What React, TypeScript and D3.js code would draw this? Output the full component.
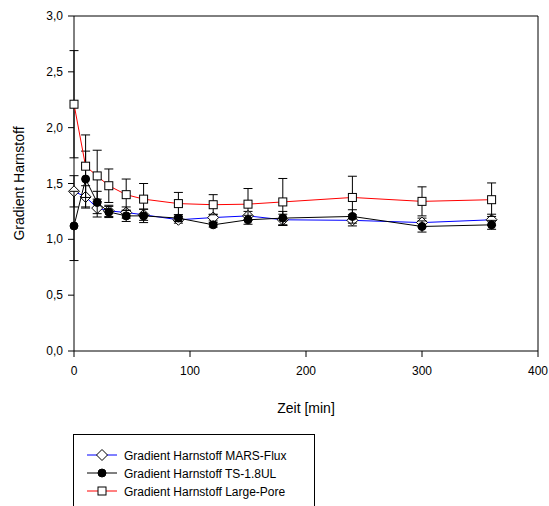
import React from "react";
import * as d3 from "d3";

const times = [0, 10, 20, 30, 45, 60, 90, 120, 150, 180, 240, 300, 360];
const marsFlux = [1.43, 1.38, 1.28, 1.255, 1.24, 1.22, 1.175, 1.195, 1.21, 1.175, 1.17, 1.15, 1.175];
const marsFluxErr = [0.14, 0.1, 0.08, 0.05, 0.05, 0.05, 0.03, 0.03, 0.04, 0.05, 0.05, 0.04, 0.05];
const ts18 = [1.12, 1.54, 1.33, 1.245, 1.21, 1.21, 1.19, 1.13, 1.175, 1.19, 1.205, 1.115, 1.13];
const ts18Err = [0.31, 0.25, 0.1, 0.05, 0.05, 0.06, 0.03, 0.02, 0.04, 0.06, 0.06, 0.05, 0.04];
const largePore = [2.21, 1.655, 1.568, 1.48, 1.4, 1.36, 1.32, 1.31, 1.315, 1.335, 1.375, 1.34, 1.355];
const largePoreErr = [0.48, 0.28, 0.23, 0.15, 0.14, 0.14, 0.1, 0.09, 0.14, 0.21, 0.19, 0.13, 0.15];

const xTicks = [0, 100, 200, 300, 400];
const yTicks = [0, 0.5, 1.0, 1.5, 2.0, 2.5, 3.0];
const legendLabels = [
  "Gradient Harnstoff MARS-Flux",
  "Gradient Harnstoff TS-1.8UL",
  "Gradient Harnstoff Large-Pore",
];

const W = 549;
const H = 506;
const X0 = 74, X1 = 538, Y0 = 351, Y1 = 16;
const font = "Liberation Sans, Arial, sans-serif";

type Series = { vals: number[]; err: number[]; color: string; marker: string };

export default function App() {
  const x = d3.scaleLinear().domain([0, 400]).range([X0, X1]);
  const y = d3.scaleLinear().domain([0, 3]).range([Y0, Y1]);
  const series: Series[] = [
    { vals: marsFlux, err: marsFluxErr, color: "#0000ff", marker: "diamond" },
    { vals: ts18, err: ts18Err, color: "#000000", marker: "circle" },
    { vals: largePore, err: largePoreErr, color: "#ff0000", marker: "square" },
  ];
  const line = d3
    .line<number>()
    .x((_, i) => x(times[i]))
    .y((v) => y(v));

  const marker = (kind: string, cx: number, cy: number, key: string) => {
    if (kind === "diamond") {
      const r = 5.5;
      return (
        <path
          key={key}
          d={`M${cx},${cy - r}L${cx + r},${cy}L${cx},${cy + r}L${cx - r},${cy}Z`}
          fill="#fff"
          stroke="#000"
          strokeWidth={1}
        />
      );
    }
    if (kind === "circle") {
      return <circle key={key} cx={cx} cy={cy} r={4} fill="#000" stroke="#000" />;
    }
    const s = 4;
    return (
      <rect key={key} x={cx - s} y={cy - s} width={2 * s} height={2 * s} fill="#fff" stroke="#000" strokeWidth={1} />
    );
  };

  const cap = 4.5;

  return (
    <svg width={W} height={H} style={{ position: "absolute", left: 0, top: 0, background: "#fff" }}>
      <rect x={0} y={0} width={W} height={H} fill="#fff" />
      {/* frame */}
      <line x1={X0} x2={X1} y1={Y1} y2={Y1} stroke="#000" strokeWidth={1} />
      <line x1={X1} x2={X1} y1={Y1} y2={Y0} stroke="#000" strokeWidth={1} />
      <line x1={X0} x2={X1} y1={Y0} y2={Y0} stroke="#000" strokeWidth={1} />
      <line x1={X0} x2={X0} y1={Y1} y2={Y0} stroke="#000" strokeWidth={1} />
      {/* y ticks */}
      {yTicks.map((t) => (
        <g key={"y" + t}>
          <line x1={X0 - 6} x2={X0} y1={y(t)} y2={y(t)} stroke="#000" />
          <text x={X0 - 11} y={y(t) + 4} textAnchor="end" fontFamily={font} fontSize={12} fill="#000">
            {t.toFixed(1).replace(".", ",")}
          </text>
        </g>
      ))}
      {/* x ticks */}
      {xTicks.map((t) => (
        <g key={"x" + t}>
          <line x1={x(t)} x2={x(t)} y1={Y0} y2={Y0 + 6} stroke="#000" />
          <text x={x(t)} y={Y0 + 24} textAnchor="middle" fontFamily={font} fontSize={12} fill="#000">
            {t}
          </text>
        </g>
      ))}
      <text x={(X0 + X1) / 2} y={413} textAnchor="middle" fontFamily={font} fontSize={14} fill="#000">
        Zeit [min]
      </text>
      <text
        transform={`translate(24,${(Y0 + Y1) / 2}) rotate(-90)`}
        textAnchor="middle"
        fontFamily={font}
        fontSize={14}
        fill="#000"
      >
        Gradient Harnstoff
      </text>
      {/* series */}
      {series.map((s, si) => (
        <g key={"s" + si}>
          {s.vals.map((v, i) => (
            <g key={"e" + i} stroke="#000" strokeWidth={1}>
              <line x1={x(times[i])} x2={x(times[i])} y1={y(v - s.err[i])} y2={y(v + s.err[i])} />
              <line x1={x(times[i]) - cap} x2={x(times[i]) + cap} y1={y(v + s.err[i])} y2={y(v + s.err[i])} />
              <line x1={x(times[i]) - cap} x2={x(times[i]) + cap} y1={y(v - s.err[i])} y2={y(v - s.err[i])} />
            </g>
          ))}
          <path d={line(s.vals) || ""} fill="none" stroke={s.color} strokeWidth={1} />
          {s.vals.map((v, i) => marker(s.marker, x(times[i]), y(v), "m" + i))}
        </g>
      ))}
      {/* legend */}
      <rect x={73.5} y={434.5} width={241} height={80} fill="#fff" stroke="#000" strokeWidth={1} />
      {series.map((s, i) => {
        const ly = 455 + i * 18;
        return (
          <g key={"l" + i}>
            <line x1={87} x2={117} y1={ly} y2={ly} stroke={s.color} strokeWidth={1} />
            {marker(s.marker, 102, ly, "lm" + i)}
            <text x={124} y={ly + 4.5} fontFamily={font} fontSize={12} fill="#000">
              {legendLabels[i]}
            </text>
          </g>
        );
      })}
    </svg>
  );
}
